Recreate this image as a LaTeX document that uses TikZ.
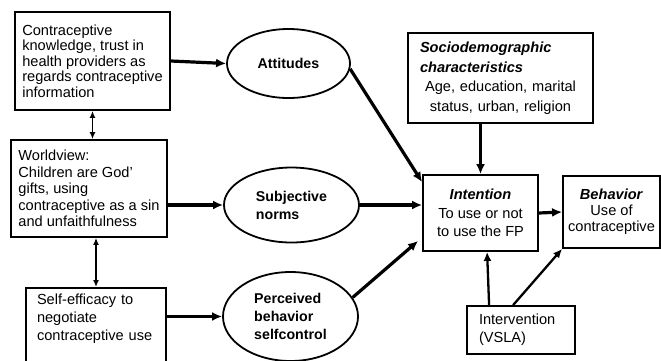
\documentclass[tikz,border=0pt]{standalone}
\usepackage{fontspec}
\setmainfont{Liberation Sans}
\usetikzlibrary{shapes.geometric,arrows.meta}
\begin{document}
\begin{tikzpicture}[x=1pt,y=-1pt,
  box/.style={draw,line width=1.8pt,inner sep=0pt,align=center},
  oval/.style={ellipse,draw,line width=1.8pt,inner sep=0pt,align=left,font=\fontsize{14.2}{18}\selectfont\bfseries},
  thickarr/.style={line width=3.2pt,-{Latex[length=10pt,width=9pt]}},
  thinarr/.style={line width=1.8pt,{Latex[length=7pt,width=6pt]}-{Latex[length=7pt,width=6pt]}},
  midarr/.style={line width=2.3pt,-{Latex[length=9pt,width=8pt]}}]
\useasboundingbox (0,0) rectangle (661,360);
\fill[white] (0,0) rectangle (661,360);

\node[box,align=left,minimum width=155pt,minimum height=98pt,font=\fontsize{14.6}{15.6}\selectfont] (k) at (92.5,61)
  {Contraceptive\\knowledge, trust in\\health providers as\\regards contraceptive\\information};
\node[box,align=left,minimum width=156pt,minimum height=97pt,font=\fontsize{14.6}{16.4}\selectfont] (wv) at (89,188.5)
  {Worldview:\\Children are God'\\gifts, using\\contraceptive as a sin\\and unfaithfulness};
\node[box,align=left,anchor=north,text width=118pt,inner xsep=11pt,inner ysep=6pt,minimum width=140pt,text depth=62pt,font=\fontsize{14.6}{18}\selectfont] (se) at (96,287)
  {Self-efficacy to\\negotiate\\contraceptive use};

\node[oval,minimum width=123pt,minimum height=69pt] (att) at (288.5,63.5) {Attitudes};
\node[oval,minimum width=135pt,minimum height=75pt] (sub) at (291.5,205) {Subjective\\norms};
\node[oval,minimum width=135pt,minimum height=89pt] (per) at (290.5,316.5) {Perceived\\behavior\\selfcontrol};

\node[box,minimum width=185pt,minimum height=90pt,text width=161pt,inner xsep=12pt,font=\fontsize{14.6}{19.5}\selectfont] (soc) at (500.5,78)
  {\makebox[161pt][l]{\bfseries\itshape Sociodemographic}\\\makebox[161pt][l]{\bfseries\itshape characteristics}\\Age, education, marital\\status, urban, religion};
\node[box,minimum width=115pt,minimum height=76pt,font=\fontsize{14.6}{18.5}\selectfont] (int) at (480.5,213)
  {\textbf{\textit{Intention}}\\To use or not\\to use the FP};
\node[box,minimum width=97pt,minimum height=72pt,font=\fontsize{14.6}{16}\selectfont] (beh) at (611.5,212)
  {\textbf{\textit{Behavior}}\\Use of\\contraceptive};
\node[box,align=left,text width=84pt,inner xsep=12pt,minimum width=108pt,minimum height=48pt,font=\fontsize{14.6}{18}\selectfont] (iv) at (521,330)
  {Intervention\\(VSLA)};

\draw[thickarr] (k.east) -- (att.west);
\draw[thickarr] (wv.east |- sub.west) -- (sub.west);
\draw[thickarr] (se.east |- per.west) -- (per.west);
\draw[thinarr] (k.south) -- (k.south |- wv.north);
\draw[thinarr] (se.north |- wv.south) -- (se.north);

\draw[thickarr] (att.-5) -- ([yshift=-8pt]int.north west);
\draw[thickarr] (sub.east) -- (sub.east -| int.west);
\draw[thickarr] (per.17) -- ([xshift=-4pt,yshift=11pt]int.south west);
\draw[thickarr] (int.north |- soc.south) -- (int.north);
\draw[thickarr] (int.east) -- (beh.west);
\draw[midarr] ([xshift=23pt]iv.north west) -- ([xshift=65pt]int.south west);
\draw[midarr] ([xshift=47pt]iv.north west) -- (beh.south west);
\end{tikzpicture}
\end{document}
